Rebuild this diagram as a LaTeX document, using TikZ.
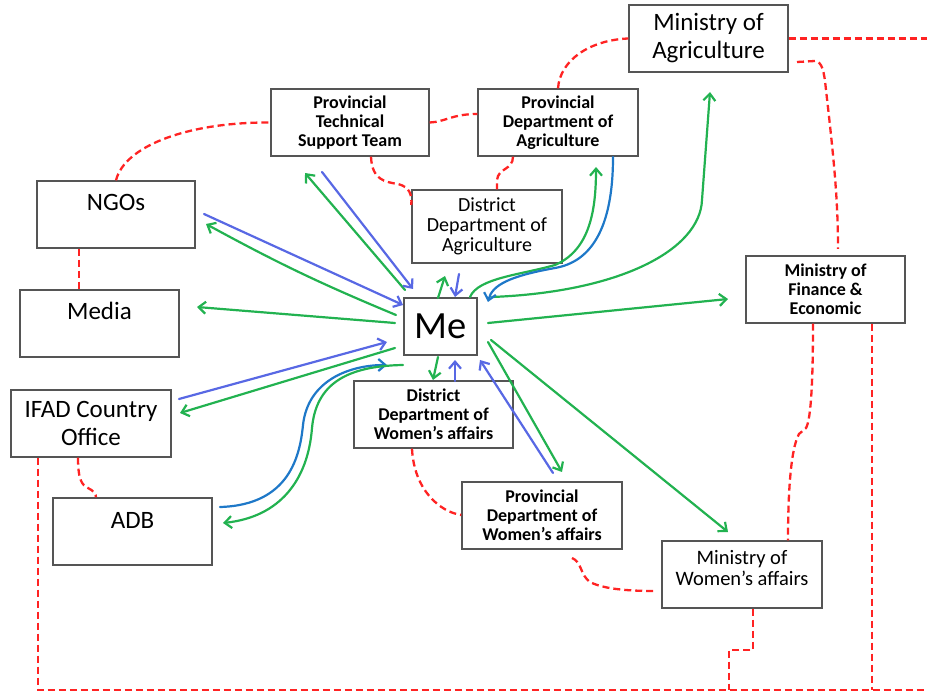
\documentclass[tikz,border=0pt]{standalone}
\usepackage{fontspec}
\setmainfont{Carlito}
\usetikzlibrary{arrows.meta,calc}
\definecolor{agreen}{RGB}{34,178,80}
\definecolor{ablue}{RGB}{88,104,228}
\definecolor{sblue}{RGB}{30,120,200}
\definecolor{rdash}{RGB}{255,35,35}
\definecolor{bgray}{RGB}{85,85,85}
\begin{document}
\begin{tikzpicture}[x=1pt,y=-1pt,
 box/.style={draw=bgray,line width=1.4pt,fill=white,rectangle,inner sep=0pt,minimum width=159pt,minimum height=67pt,align=center},
 fsmall/.style={font=\fontsize{18}{19}\selectfont\bfseries},
 fmid/.style={font=\fontsize{20}{20}\selectfont},
 fbig/.style={font=\fontsize{25}{28}\selectfont},
 lab/.style={inner sep=0pt,font=\fontsize{25}{28}\selectfont},
 ga/.style={draw=agreen,line width=2.2pt,line cap=round,-{Straight Barb[length=7pt,width=12pt]}},
 ba/.style={draw=ablue,line width=2.2pt,line cap=round,-{Straight Barb[length=7pt,width=12pt]}},
 sa/.style={draw=sblue,line width=2.2pt,line cap=round,-{Straight Barb[length=7pt,width=12pt]}},
 rd/.style={draw=rdash,line width=2.3pt,dash pattern=on 7pt off 4pt},
]
\useasboundingbox (0,0) rectangle (927,692);

% boxes
\node[box,fbig] (moa) at (708.5,38.5) {Ministry of\\Agriculture};
\node[box,fsmall,minimum width=158pt] (ptst) at (350,122.5) {Provincial\\Technical\\Support Team};
\node[box,fsmall,minimum width=160pt] (pda) at (558,122.5) {Provincial\\Department of\\Agriculture};
\node[box,fmid,minimum width=150pt,minimum height=73pt] (dda) at (487,226.5) {District\\Department of\\Agriculture};
\node[box,minimum width=158pt] (ngo) at (116,214.5) {};
\node[lab] (ngot) at ([yshift=-22pt]ngo.north) {NGOs};
\node[box] (media) at (99.5,323.5) {};
\node[lab] (mediat) at ([yshift=-22pt]media.north) {Media};
\node[box,minimum width=73pt,minimum height=57pt,font=\fontsize{38.5}{40}\selectfont] (me) at (440.5,326.5) {Me};
\node[box,fsmall] (mofe) at (825.5,289.5) {Ministry of\\Finance \&\\Economic};
\node[box,fbig,minimum width=160pt] (ifad) at (91,423.5) {IFAD Country\\Office};
\node[box,fsmall] (ddwa) at (433.5,414.5) {District\\Department of\\Women’s affairs};
\node[box] (adb) at (132.5,531.5) {};
\node[lab] (adbt) at ([yshift=-23pt]adb.north) {ADB};
\node[box,fsmall,minimum width=160pt] (pdwa) at (542,515.5) {Provincial\\Department of\\Women’s affairs};
\node[box,minimum width=160pt] (mowa) at (742,574.5) {};
\node[inner sep=0pt,align=center,font=\fontsize{20.5}{21}\selectfont] (mowat) at (742,568.5) {Ministry of\\Women’s affairs};

% red dashed links
\draw[rd] (ngo.north) .. controls (125,145) and (190,122) .. (ptst.west);
\draw[rd] (ngo.south -| 79,0) -- (media.north -| 79,0);
\draw[rd] (ptst.east) .. controls (445,122) and (452,114) .. (pda.west |- 0,114);
\draw[rd] (ptst.south -| 371,0) .. controls (372,180) and (385,182) .. (398,184) .. controls (410,187) and (412,195) .. (dda.west |- 0,205);
\draw[rd] (pda.south -| 513,0) .. controls (513,170) and (498,168) .. (497,180) -- (dda.north -| 497,0);
\draw[rd] (pda.north -| 558,0) .. controls (560,60) and (590,40) .. (moa.west);
\coordinate (rightA) at (927,38.5);
\draw[rd] (moa.east) -- (rightA);
\coordinate (moaS) at (797,62);
\coordinate (mofeN) at (838,249);
\draw[rd] (moaS) -- (815,61) .. controls (822,62) and (824,70) .. (826,90) .. controls (834,160) and (838,200) .. (mofeN);
\draw[rd] (mofe.south -| 813,0) .. controls (813,380) and (811,420) .. (806,428) -- (799,434) .. controls (790,450) and (788,500) .. (mowa.north -| 788,0);
\coordinate (botR) at (872,690);
\draw[rd] (mofe.south -| 872,0) -- (botR);
\coordinate (botRight) at (927,690);
\draw[rd] (ifad.south -| 38,0) -- (38,690) -- (botRight);
\draw[rd] (mowa.south -| 753,0) -- (753,650) -- (729,650) -- (729,690);
\draw[rd] (ifad.south -| 78,0) .. controls (78,480) and (82,485) .. (88,488) .. controls (94,491) and (96,494) .. (adb.north -| 96,0);
\draw[rd] (ddwa.south -| 412,0) .. controls (414,490) and (440,512) .. (pdwa.west |- 0,515);
\coordinate (pdwaS) at (572,558);
\coordinate (mowaW) at (655,591);
\draw[rd] (pdwaS) .. controls (582,562) and (580,575) .. (590,582) .. controls (605,590) and (635,591) .. (mowaW);

% arrows: endpoints
\coordinate (ptstE) at (305,173);
\coordinate (ptstS) at (322,172);
\coordinate (meA) at (405,290);
\coordinate (meB) at (413,289);
\coordinate (ngoS) at (204,214);
\coordinate (ngoE) at (206,224);
\coordinate (meC) at (403,305);
\coordinate (meD) at (396,315);
\coordinate (mediaE) at (197,307);
\coordinate (meE) at (395,323);
\coordinate (ifadS) at (179,399);
\coordinate (ifadE) at (180,413);
\coordinate (meF) at (387,342);
\coordinate (meG) at (395,348);
\coordinate (adbS) at (220,507);
\coordinate (adbE) at (223,523);
\coordinate (meH) at (387,365);
\coordinate (meI) at (403,365);
\coordinate (ddaE) at (445,276);
\coordinate (ddaS) at (459,274);
\coordinate (meJ) at (438,298);
\coordinate (meK) at (455,297);
\coordinate (ddwaE) at (433,380);
\coordinate (ddwaS) at (455,381);
\coordinate (meL) at (438,357);
\coordinate (meM) at (455,360);
\coordinate (pdwaSt) at (553,473);
\coordinate (pdwaE) at (562,472);
\coordinate (meN) at (480,360);
\coordinate (meO) at (488,342);
\coordinate (meP) at (491,340);
\coordinate (mowaE) at (728,532);
\coordinate (meQ) at (488,323);
\coordinate (mofeE) at (728,299);
\coordinate (meR) at (492,297);
\coordinate (moaE) at (710,92);
\coordinate (meS) at (470,297);
\coordinate (pdaE) at (596,167);
\coordinate (pdaSt) at (613,157);
\coordinate (meT) at (488,302);

\draw[ga] (meA) -- (ptstE);
\draw[ba] (ptstS) -- (meB);
\draw[ba] (ngoS) -- (meC);
\draw[ga] (meD) to[bend left=3] (ngoE);
\draw[ga] (meE) -- (mediaE);
\draw[ba] (ifadS) -- (meF);
\draw[ga] (meG) -- (ifadE);
\draw[sa] (adbS) .. controls (290,505) and (300,455) .. (303,425) .. controls (308,380) and (350,365) .. (meH);
\draw[ga] (meI) .. controls (345,366) and (316,385) .. (312,428) .. controls (308,480) and (280,517) .. (adbE);
\draw[ga] (meJ) -- (ddaE);
\draw[ba] (ddaS) -- (meK);
\draw[ga] (meL) -- (ddwaE);
\draw[ba] (ddwaS) -- (meM);
\draw[ba] (pdwaSt) -- (meN);
\draw[ga] (meO) -- (pdwaE);
\draw[ga] (meP) -- (mowaE);
\draw[ga] (meQ) -- (mofeE);
\draw[ga] (meR) .. controls (620,292) and (700,250) .. (702,200) -- (moaE);
\draw[ga] (meS) .. controls (478,278) and (520,275) .. (555,265) .. controls (590,250) and (596,210) .. (pdaE);
\draw[sa] (pdaSt) .. controls (613,230) and (590,262) .. (555,268) .. controls (510,276) and (492,285) .. (meT);
\end{tikzpicture}
\end{document}
